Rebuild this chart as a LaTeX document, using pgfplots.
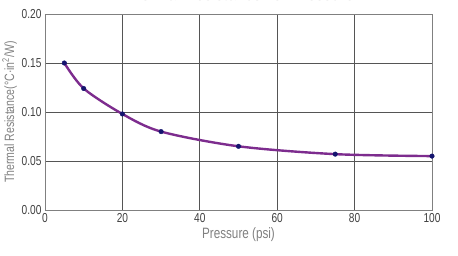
\documentclass[border=0pt]{standalone}
\usepackage{fontspec}
\setmainfont[FakeStretch=0.78]{Liberation Sans}
\usepackage{pgfplots}
\pgfplotsset{compat=1.18}
\definecolor{linepurple}{HTML}{7D2C8E}
\definecolor{marknavy}{HTML}{14146E}
\definecolor{labgray}{HTML}{808080}
\definecolor{gridgray}{HTML}{555555}
\begin{document}
\begin{tikzpicture}
\clip (-45pt,-45pt) rectangle (413pt,210pt);
\begin{axis}[
  scale only axis,
  width=387pt, height=196pt,
  xmin=0, xmax=100, ymin=0, ymax=0.20,
  xtick={0,20,40,60,80,100},
  ytick={0,0.05,0.10,0.15,0.20},
  /pgf/number format/assume math mode=true,
  yticklabel style={/pgf/number format/.cd, fixed, fixed zerofill, precision=2},
  xticklabel style={/pgf/number format/fixed},
  tick label style={font=\fontsize{13}{15}\selectfont, text=black!75},
  major tick length=0pt,
  grid=major,
  major grid style={gridgray, line width=0.9pt},
  axis line style={labgray, line width=0.9pt},
  xlabel={Pressure (psi)},
  ylabel={Thermal Resistance(°C·in\textsuperscript{2}/W)},
  label style={text=labgray},
  xlabel style={font=\fontsize{15}{17}\selectfont, yshift=2pt},
  ylabel style={font=\fontsize{13.5}{15}\selectfont, yshift=-2pt},
  title={Thermal Resistance vs. Pressure},
  title style={font=\fontsize{20}{22}\selectfont, text=labgray!60, yshift=4pt},
  clip=false,
]
\addplot[linepurple, line width=2.4pt, smooth, tension=0.5,
  mark=*, mark size=2.3pt, mark options={fill=marknavy, draw=marknavy, line width=0.4pt}]
  coordinates {(5,0.150) (10,0.124) (20,0.098) (30,0.080) (50,0.065) (75,0.057) (100,0.055)};
\end{axis}
\end{tikzpicture}
\end{document}
